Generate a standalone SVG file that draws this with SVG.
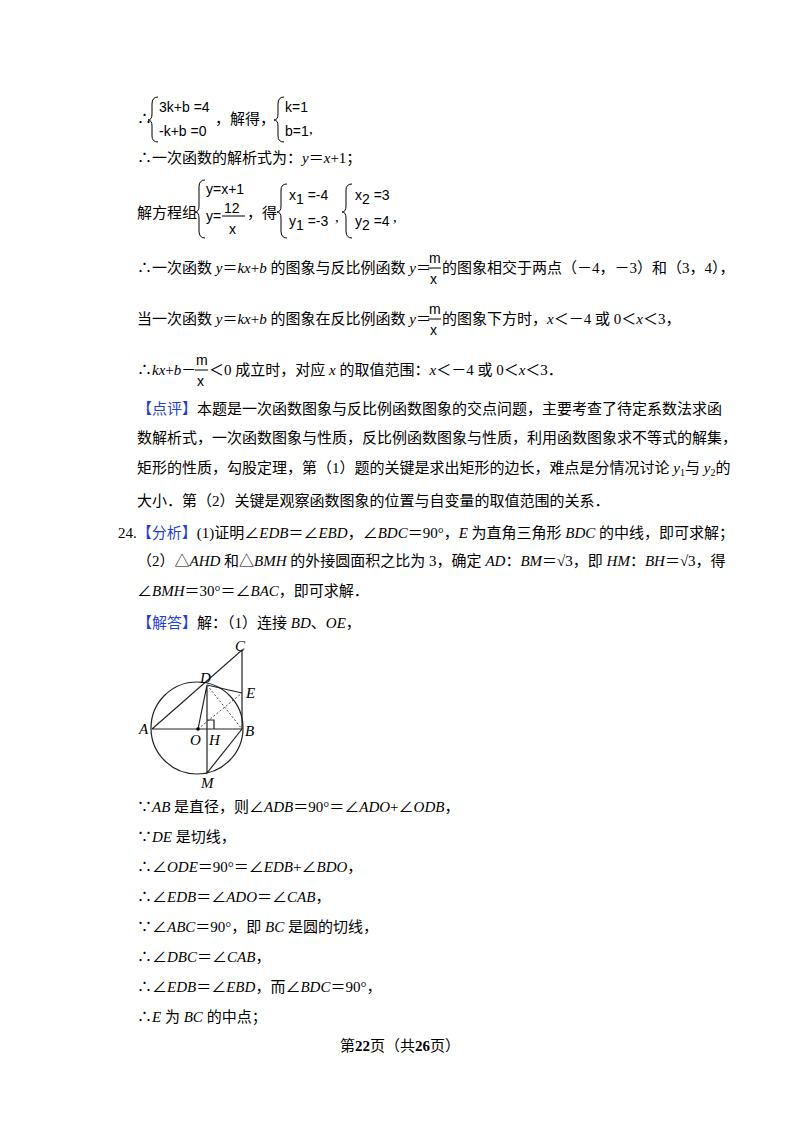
<svg xmlns="http://www.w3.org/2000/svg" width="800" height="1132" viewBox="0 0 800 1132">
<style>
text{font-family:"Liberation Serif","Noto Sans CJK SC",serif;font-size:15px;fill:#000}
.s{font-family:"Liberation Sans","Noto Sans CJK SC",sans-serif;font-size:14px}
.i{font-style:italic}
.b{fill:#1f3fd8}
.br{fill:none;stroke:#000;stroke-width:1}
.g{fill:none;stroke:#222;stroke-width:1.2}
.d{fill:none;stroke:#444;stroke-width:1;stroke-dasharray:2,2}
</style>
<rect width="800" height="1132" fill="#fff"/>
<g id="eq1">
<text x="137" y="124">∴</text>
<path class="br" d="M158,97 Q152,97 152,104 L152,114 Q152,120 148,120 Q152,120 152,126 L152,136 Q152,142 158,142"/>
<text class="s" x="159" y="112">3k+b =4</text>
<text class="s" x="159" y="136">-k+b =0</text>
<text x="215" y="124">，解得，</text>
<path class="br" d="M284,97 Q278,97 278,104 L278,114 Q278,120 274,120 Q278,120 278,126 L278,136 Q278,142 284,142"/>
<text class="s" x="285" y="112">k=1</text>
<text class="s" x="285" y="136">b=1</text>
<text x="309" y="134">,</text>
</g>
<text x="137" y="163">∴一次函数的解析式为：<tspan class="i">y</tspan>＝<tspan class="i">x</tspan>+1；</text>
<g id="eq2">
<text x="137" y="218">解方程组</text>
<path class="br" d="M205,180 Q199,180 199,187 L199,206 Q199,212 195,212 Q199,212 199,218 L199,231 Q199,238 205,238"/>
<text class="s" x="206" y="194">y=x+1</text>
<text class="s" x="206" y="221">y=</text>
<text class="s" x="224" y="213">12</text>
<line x1="222" y1="216" x2="245" y2="216" stroke="#000"/>
<text class="s" x="229" y="234">x</text>
<text x="247" y="218">，得</text>
<path class="br" d="M287,184 Q281,184 281,190 L281,206 Q281,212 277,212 Q281,212 281,218 L281,231 Q281,238 287,238"/>
<text class="s" x="289" y="200">x<tspan dy="4">1</tspan><tspan dy="-4"> =-4</tspan></text>
<text class="s" x="289" y="226">y<tspan dy="4">1</tspan><tspan dy="-4"> =-3</tspan></text>
<text x="335" y="222">,</text>
<path class="br" d="M352,184 Q346,184 346,190 L346,206 Q346,212 342,212 Q346,212 346,218 L346,231 Q346,238 352,238"/>
<text class="s" x="355" y="200">x<tspan dy="4">2</tspan><tspan dy="-4"> =3</tspan></text>
<text class="s" x="355" y="226">y<tspan dy="4">2</tspan><tspan dy="-4"> =4</tspan></text>
<text x="393" y="222">,</text>
</g>
<g id="l1">
<text x="137" y="273">∴一次函数 <tspan class="i">y</tspan>＝<tspan class="i">kx</tspan>+<tspan class="i">b</tspan> 的图象与反比例函数 <tspan class="i">y</tspan>＝</text>
<text class="s" x="429" y="263">m</text><line x1="428" y1="268" x2="441" y2="268" stroke="#000"/><text class="s" x="430" y="284">x</text>
<text x="442" y="273">的图象相交于两点（－4，－3）和（3，4），</text>
</g>
<g id="l2">
<text x="137" y="324">当一次函数 <tspan class="i">y</tspan>＝<tspan class="i">kx</tspan>+<tspan class="i">b</tspan> 的图象在反比例函数 <tspan class="i">y</tspan>＝</text>
<text class="s" x="429" y="314">m</text><line x1="428" y1="319" x2="441" y2="319" stroke="#000"/><text class="s" x="430" y="335">x</text>
<text x="442" y="324">的图象下方时，<tspan class="i">x</tspan>＜－4 或 0＜<tspan class="i">x</tspan>＜3，</text>
</g>
<g id="l3">
<text x="137" y="375">∴<tspan class="i">kx</tspan>+<tspan class="i">b</tspan>－</text>
<text class="s" x="196" y="365">m</text><line x1="195" y1="370" x2="208" y2="370" stroke="#000"/><text class="s" x="197" y="386">x</text>
<text x="209" y="375">＜0 成立时，对应 <tspan class="i">x</tspan> 的取值范围：<tspan class="i">x</tspan>＜－4 或 0＜<tspan class="i">x</tspan>＜3．</text>
</g>
<text x="137" y="414"><tspan class="b">【点评】</tspan>本题是一次函数图象与反比例函数图象的交点问题，主要考查了待定系数法求函</text>
<text x="137" y="443">数解析式，一次函数图象与性质，反比例函数图象与性质，利用函数图象求不等式的解集，</text>
<text x="137" y="473">矩形的性质，勾股定理，第（1）题的关键是求出矩形的边长，难点是分情况讨论 <tspan class="i">y</tspan><tspan font-size="10" dy="3">1</tspan><tspan dy="-3">与 </tspan><tspan class="i">y</tspan><tspan font-size="10" dy="3">2</tspan><tspan dy="-3">的</tspan></text>
<text x="137" y="506">大小．第（2）关键是观察函数图象的位置与自变量的取值范围的关系．</text>
<text x="118" y="538">24.<tspan class="b">【分析】</tspan>(1)证明∠<tspan class="i">EDB</tspan>＝∠<tspan class="i">EBD</tspan>，∠<tspan class="i">BDC</tspan>＝90°，<tspan class="i">E</tspan> 为直角三角形 <tspan class="i">BDC</tspan> 的中线，即可求解；</text>
<text x="137" y="566">（2）△<tspan class="i">AHD</tspan> 和△<tspan class="i">BMH</tspan> 的外接圆面积之比为 3，确定 <tspan class="i">AD</tspan>：<tspan class="i">BM</tspan>＝√3，即 <tspan class="i">HM</tspan>：<tspan class="i">BH</tspan>＝√3，得</text>
<text x="137" y="596">∠<tspan class="i">BMH</tspan>＝30°＝∠<tspan class="i">BAC</tspan>，即可求解．</text>
<text x="137" y="628"><tspan class="b">【解答】</tspan>解：（1）连接 <tspan class="i">BD</tspan>、<tspan class="i">OE</tspan>，</text>
<g id="figure">
<circle class="g" cx="197" cy="728" r="46"/>
<path class="g" d="M152,729 L242,729 M152,729 L242,650 L242,729 M207,685 L242,693 M207,685 L207,773 L242,729 M198,729 L207,685"/>
<path class="d" d="M207,685 L242,729 M198,729 L242,693"/>
<path class="g" d="M207,720 h7 v9" stroke-width="1"/>
<circle cx="198" cy="729" r="1.8" fill="#000"/>
<text class="i" x="235" y="651" font-size="13">C</text>
<text class="i" x="200" y="683" font-size="13">D</text>
<text class="i" x="246" y="698" font-size="13">E</text>
<text class="i" x="139" y="734" font-size="13">A</text>
<text class="i" x="245" y="736" font-size="13">B</text>
<text class="i" x="190" y="745" font-size="13">O</text>
<text class="i" x="209" y="745" font-size="13">H</text>
<text class="i" x="201" y="788" font-size="13">M</text>
</g>
<text x="137" y="812">∵<tspan class="i">AB</tspan> 是直径，则∠<tspan class="i">ADB</tspan>＝90°＝∠<tspan class="i">ADO</tspan>+∠<tspan class="i">ODB</tspan>，</text>
<text x="137" y="842">∵<tspan class="i">DE</tspan> 是切线，</text>
<text x="137" y="872">∴∠<tspan class="i">ODE</tspan>＝90°＝∠<tspan class="i">EDB</tspan>+∠<tspan class="i">BDO</tspan>，</text>
<text x="137" y="902">∴∠<tspan class="i">EDB</tspan>＝∠<tspan class="i">ADO</tspan>＝∠<tspan class="i">CAB</tspan>，</text>
<text x="137" y="932">∵∠<tspan class="i">ABC</tspan>＝90°，即 <tspan class="i">BC</tspan> 是圆的切线，</text>
<text x="137" y="962">∴∠<tspan class="i">DBC</tspan>＝∠<tspan class="i">CAB</tspan>，</text>
<text x="137" y="992">∴∠<tspan class="i">EDB</tspan>＝∠<tspan class="i">EBD</tspan>，而∠<tspan class="i">BDC</tspan>＝90°，</text>
<text x="137" y="1022">∴<tspan class="i">E</tspan> 为 <tspan class="i">BC</tspan> 的中点；</text>
<text x="400" y="1051" text-anchor="middle" font-size="13">第<tspan font-weight="bold" font-size="15">22</tspan>页（共<tspan font-weight="bold" font-size="15">26</tspan>页）</text>
</svg>
